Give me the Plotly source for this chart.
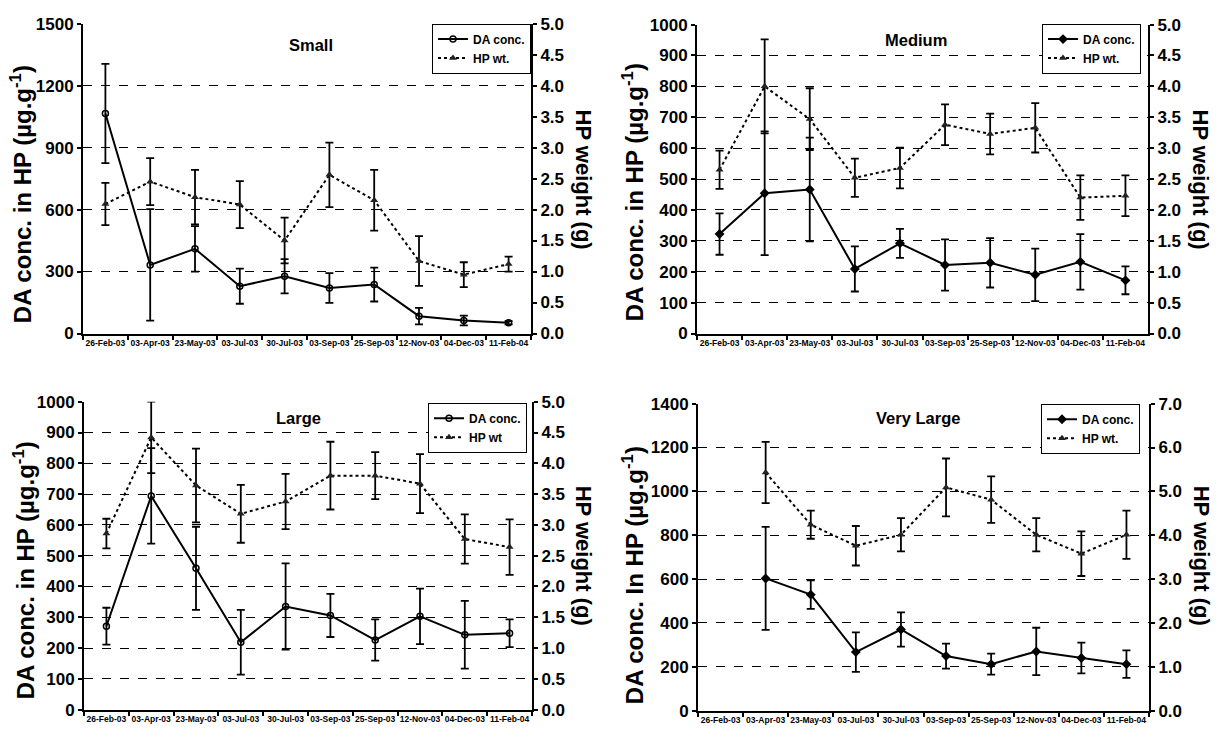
import plotly.graph_objects as go

# Sampling dates (categorical x axis)
dates = ["26-Feb-03", "03-Apr-03", "23-May-03", "03-Jul-03", "30-Jul-03",
         "03-Sep-03", "25-Sep-03", "12-Nov-03", "04-Dec-03", "11-Feb-04"]

# Small size class
small_da = [1065, 332, 410, 229, 277, 220, 237, 84, 63, 52]
small_da_err = [240, 270, 110, 85, 83, 72, 82, 40, 24, 8]
small_hp = [2.09, 2.45, 2.20, 2.08, 1.50, 2.56, 2.15, 1.17, 0.95, 1.12]
small_hp_err = [0.34, 0.38, 0.44, 0.38, 0.37, 0.52, 0.49, 0.40, 0.20, 0.12]

# Medium size class
medium_da = [322, 454, 466, 209, 292, 222, 229, 190, 232, 172]
medium_da_err = [67, 200, 168, 73, 47, 83, 80, 85, 90, 45]
medium_hp = [2.65, 4.00, 3.47, 2.52, 2.68, 3.38, 3.23, 3.33, 2.20, 2.23]
medium_hp_err = [0.31, 0.76, 0.50, 0.31, 0.33, 0.33, 0.33, 0.40, 0.36, 0.33]

# Large size class
large_da = [271, 694, 459, 219, 335, 306, 226, 303, 243, 248]
large_da_err = [60, 155, 135, 105, 140, 70, 67, 90, 110, 45]
large_hp = [2.86, 4.42, 3.64, 3.18, 3.38, 3.80, 3.80, 3.67, 2.77, 2.64]
large_hp_err = [0.24, 0.58, 0.60, 0.47, 0.45, 0.55, 0.38, 0.48, 0.40, 0.45]

# Very large size class (no sample on the first date)
vlarge_da = [None, 603, 529, 267, 370, 249, 212, 270, 240, 212]
vlarge_da_err = [0, 235, 65, 90, 78, 57, 48, 108, 70, 63]
vlarge_hp = [None, 5.43, 4.24, 3.76, 4.01, 5.09, 4.81, 4.01, 3.58, 4.01]
vlarge_hp_err = [0, 0.70, 0.32, 0.45, 0.38, 0.66, 0.53, 0.38, 0.51, 0.55]

W, H = 1218, 745
FONT = "Liberation Sans, Arial, sans-serif"

def fx(px):
    return px / W

def fy(py):
    return 1 - py / H

panels = [
    dict(name="Small", da=small_da, da_err=small_da_err, hp=small_hp, hp_err=small_hp_err,
         box=(83, 531, 15, 333), yl=(1500, 300), yr=(5.0, 0.5), da_sym="circle-open",
         hp_label="HP wt.", ylab="DA conc. in HP (µg.g<sup>-1</sup>)",
         title_xy=(311, 37), ltitle_xy=(21, 190), rtitle_xy=(583, 175), leg=(531, 15)),
    dict(name="Medium", da=medium_da, da_err=medium_da_err, hp=medium_hp, hp_err=medium_hp_err,
         box=(697, 1148, 16, 333), yl=(1000, 100), yr=(5.0, 0.5), da_sym="diamond",
         hp_label="HP wt.", ylab="DA conc. in HP (µg.g<sup>-1</sup>)",
         title_xy=(916, 32), ltitle_xy=(633, 188), rtitle_xy=(1200, 175), leg=(1141, 15)),
    dict(name="Large", da=large_da, da_err=large_da_err, hp=large_hp, hp_err=large_hp_err,
         box=(84, 532, 403, 719), yl=(1000, 100), yr=(5.0, 0.5), da_sym="circle-open",
         hp_label="HP wt", ylab="DA conc. in HP (µg.g<sup>-1</sup>)",
         title_xy=(298, 420), ltitle_xy=(24, 576), rtitle_xy=(583, 561), leg=(527, 404)),
    dict(name="Very Large", da=vlarge_da, da_err=vlarge_da_err, hp=vlarge_hp, hp_err=vlarge_hp_err,
         box=(698, 1149, 405, 720), yl=(1400, 200), yr=(7.0, 1.0), da_sym="diamond",
         hp_label="HP wt.", ylab="DA conc. In HP (µg.g<sup>-1</sup>)",
         title_xy=(918, 420), ltitle_xy=(633, 581), rtitle_xy=(1201, 561), leg=(1140, 405)),
]

fig = go.Figure()
layout = dict(
    width=W, height=H, autosize=False,
    margin=dict(l=0, r=0, t=0, b=0),
    paper_bgcolor="white", plot_bgcolor="white",
    font=dict(family=FONT, color="black"),
    showlegend=True,
    annotations=[],
)

for i, p in enumerate(panels, start=1):
    xname = "x" if i == 1 else f"x{i}"
    yl_idx = 2 * i - 1
    yr_idx = 2 * i
    ylname = "y" if yl_idx == 1 else f"y{yl_idx}"
    yrname = f"y{yr_idx}"
    legname = "legend" if i == 1 else f"legend{i}"
    x0, x1, y0, y1 = p["box"]

    fig.add_trace(go.Scatter(
        x=dates, y=p["da"], name="DA conc.", xaxis=xname, yaxis=ylname,
        mode="lines+markers", legend=legname,
        line=dict(color="black", width=2),
        marker=dict(symbol=p["da_sym"], size=6, color="black",
                    line=dict(color="black", width=1.5)),
        error_y=dict(type="data", array=p["da_err"], visible=True,
                     color="black", thickness=1.8, width=4),
    ))
    fig.add_trace(go.Scatter(
        x=dates, y=p["hp"], name=p["hp_label"], xaxis=xname, yaxis=yrname,
        mode="lines+markers", legend=legname,
        line=dict(color="black", width=2, dash="dot"),
        marker=dict(symbol="triangle-up", size=7, color="#222"),
        error_y=dict(type="data", array=p["hp_err"], visible=True,
                     color="black", thickness=1.8, width=4),
    ))

    xkey = "xaxis" if i == 1 else f"xaxis{i}"
    ylkey = "yaxis" if yl_idx == 1 else f"yaxis{yl_idx}"
    yrkey = f"yaxis{yr_idx}"

    layout[xkey] = dict(
        domain=[fx(x0), fx(x1)], anchor=ylname, type="category",
        categoryorder="array", categoryarray=dates, range=[-0.5, 9.5],
        tickson="boundaries", ticks="outside", ticklen=4, tickwidth=1.5,
        tickcolor="black", tickangle=0,
        tickfont=dict(family=FONT, size=8.5, color="black", weight="bold"),
        showline=True, linecolor="black", linewidth=2, showgrid=False,
        zeroline=False, fixedrange=True,
    )
    layout[ylkey] = dict(
        domain=[fy(y1), fy(y0)], anchor=xname, range=[0, p["yl"][0]],
        dtick=p["yl"][1], tick0=0, ticks="outside", ticklen=4, tickwidth=1.5,
        tickcolor="black",
        tickfont=dict(family=FONT, size=17, color="black", weight="bold"),
        showline=True, linecolor="black", linewidth=2,
        showgrid=True, gridcolor="black", gridwidth=1, griddash="dash",
        zeroline=False,
    )
    layout[yrkey] = dict(
        overlaying=ylname, side="right", anchor=xname, range=[0, p["yr"][0]],
        dtick=p["yr"][1], tick0=0, tickformat=".1f", ticks="outside", ticklen=4,
        tickwidth=1.5, tickcolor="black",
        tickfont=dict(family=FONT, size=17, color="black", weight="bold"),
        showline=True, linecolor="black", linewidth=2, showgrid=False,
        zeroline=False,
    )
    layout[legname] = dict(
        x=fx(p["leg"][0]), y=fy(p["leg"][1]), xanchor="right", yanchor="top",
        bgcolor="white", bordercolor="black", borderwidth=1,
        font=dict(family=FONT, size=12, color="black", weight="bold"),
        itemwidth=30, tracegroupgap=0,
    )

    layout["annotations"] += [
        dict(text=f"<b>{p['name']}</b>", x=fx(p["title_xy"][0]), y=fy(p["title_xy"][1]),
             xref="paper", yref="paper", showarrow=False,
             xanchor="center", yanchor="middle",
             font=dict(family=FONT, size=16.5, color="black")),
        dict(text=f"<b>{p['ylab']}</b>", x=fx(p["ltitle_xy"][0]), y=fy(p["ltitle_xy"][1]),
             xref="paper", yref="paper", showarrow=False, textangle=-90,
             xanchor="center", yanchor="middle",
             font=dict(family=FONT, size=24, color="black")),
        dict(text="<b>HP weight (g)</b>", x=fx(p["rtitle_xy"][0]), y=fy(p["rtitle_xy"][1]),
             xref="paper", yref="paper", showarrow=False, textangle=90,
             xanchor="center", yanchor="middle",
             font=dict(family=FONT, size=22, color="black")),
    ]

fig.update_layout(**layout)
fig.write_html("out.html")
